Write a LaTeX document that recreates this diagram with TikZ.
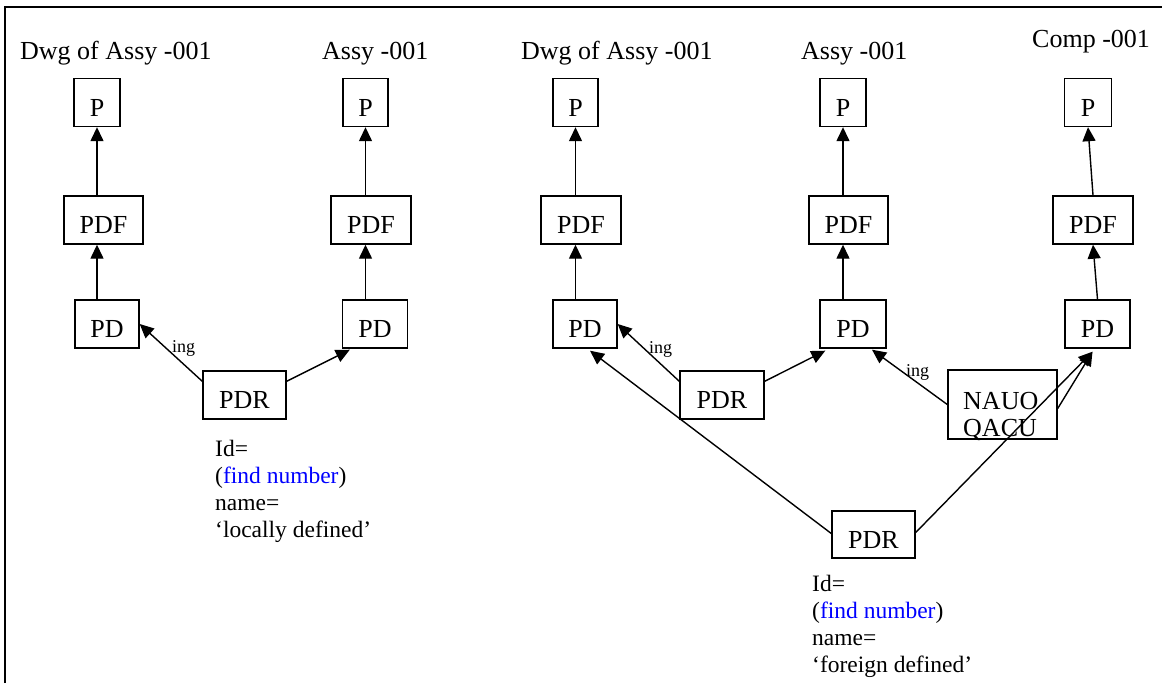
\documentclass[tikz,border=0pt]{standalone}
\usepackage{fontspec}
\setmainfont{Liberation Serif}
\usetikzlibrary{arrows.meta,calc}
\begin{document}
\begin{tikzpicture}[x=1pt,y=-1pt,
  box/.style={draw, line width=1.4pt, inner sep=0pt, minimum height=48pt,
    text height=27pt, text depth=0pt, font=\fontsize{26}{30}\selectfont},
  lbl/.style={anchor=base west, inner sep=0pt, font=\fontsize{26}{30}\selectfont},
  note/.style={anchor=base west, inner sep=0pt, font=\fontsize{23.5}{27}\selectfont},
  rel/.style={anchor=base west, inner sep=0pt, font=\fontsize{18}{20}\selectfont},
  link/.style={line width=1.4pt, -{Triangle[length=14pt,width=13pt]}}
]
\useasboundingbox (0,0) rectangle (1162,683);

% frame (left and top edges)
\draw[line width=2.4pt] (5,683) -- (5,7) -- (1162,7);

% column titles
\node[lbl] (tA) at (20,59) {Dwg of Assy -001};
\node[lbl] (tB) at (322,59) {Assy -001};
\node[lbl] (tC) at (521,59) {Dwg of Assy -001};
\node[lbl] (tD) at (801,59) {Assy -001};
\node[lbl] (tE) at (1032,47) {Comp -001};

% left structure
\node[box, minimum width=46pt] (aP)   at (97,102.5) {P};
\node[box, minimum width=79pt] (aPDF) at (103.5,220) {PDF};
\node[box, minimum width=64pt] (aPD)  at (107,324) {PD};
\node[box, minimum width=45pt] (bP)   at (365.5,102.5) {P};
\node[box, minimum width=80pt] (bPDF) at (371,220) {PDF};
\node[box, minimum width=65pt] (bPD)  at (375,324) {PD};
\node[box, minimum width=83pt] (pdr1) at (244.5,395) {PDR};

% right structure
\node[box, minimum width=45pt] (cP)   at (575.5,102.5) {P};
\node[box, minimum width=80pt] (cPDF) at (581,220) {PDF};
\node[box, minimum width=64pt] (cPD)  at (585,324) {PD};
\node[box, minimum width=84pt] (pdr2) at (722,395) {PDR};
\node[box, minimum width=46pt] (dP)   at (843,102.5) {P};
\node[box, minimum width=79pt] (dPDF) at (848.5,220) {PDF};
\node[box, minimum width=66pt] (dPD)  at (853,324) {PD};
\node[box, minimum width=47pt] (eP)   at (1088,102.5) {P};
\node[box, minimum width=80pt] (ePDF) at (1093,220) {PDF};
\node[box, minimum width=65pt] (ePD)  at (1097.5,324) {PD};
\node[draw, line width=1.4pt, minimum width=109pt, minimum height=69pt] (nauo) at (1002.5,404.5) {};
\node[lbl] (nauoA) at (963,409) {NAUO};
\node[lbl] (nauoB) at (963,436.5) {QACU};
\node[box, minimum width=83pt, minimum height=47pt] (pdr3) at (873.5,534.5) {PDR};

% vertical chains
\draw[link] (aP.south |- aPDF.north) -- (aP.south);
\draw[link] (aP.south |- aPD.north) -- (aP.south |- aPDF.south);
\draw[link] (bP.south |- bPDF.north) -- (bP.south);
\draw[link] (bP.south |- bPD.north) -- (bP.south |- bPDF.south);
\draw[link] (cP.south |- cPDF.north) -- (cP.south);
\draw[link] (cP.south |- cPD.north) -- (cP.south |- cPDF.south);
\draw[link] (dP.south |- dPDF.north) -- (dP.south);
\draw[link] (dP.south |- dPD.north) -- (dP.south |- dPDF.south);
\draw[link] (ePDF.north) -- (eP.south);
\draw[link] (ePD.north) -- (ePDF.south);

% relationship links, left
\draw[link] ($(pdr1.north west)+(0,11)$) -- (aPD.east);
\draw[link] ($(pdr1.north east)+(0,11)$) -- ($(bPD.south west)+(8,1)$);
\node[rel] (ing1) at (172,352) {ing};

% relationship links, right
\draw[link] ($(pdr2.north west)+(0,11)$) -- (cPD.east);
\draw[link] ($(pdr2.north east)+(0,11)$) -- ($(dPD.south west)+(6,2)$);
\node[rel] (ing2) at (649,353) {ing};
\draw[link] (nauo.west) -- ($(dPD.south)+(19,1)$);
\node[rel] (ing3) at (906,376) {ing};
\draw[link] ($(nauo.east)+(0,4)$) -- ($(ePD.south)+(-5,3)$);
\draw[link] ($(pdr3.west)+(0,-1)$) -- ($(cPD.south)+(5,2)$);
\draw[link] ($(pdr3.east)+(0,-2)$) -- ($(ePD.south)+(-5,3)$);

% attribute notes
\node[note] (nA1) at (215,456) {Id=};
\node[note] (nA2) at (215,483.3) {(\textcolor{blue}{find number})};
\node[note] (nA3) at (215,510.6) {name=};
\node[note] (nA4) at (215,537.9) {‘locally defined’};
\node[note] (nB1) at (812,591) {Id=};
\node[note] (nB2) at (812,618) {(\textcolor{blue}{find number})};
\node[note] (nB3) at (812,645) {name=};
\node[note] (nB4) at (812,672) {‘foreign defined’};
\end{tikzpicture}
\end{document}
